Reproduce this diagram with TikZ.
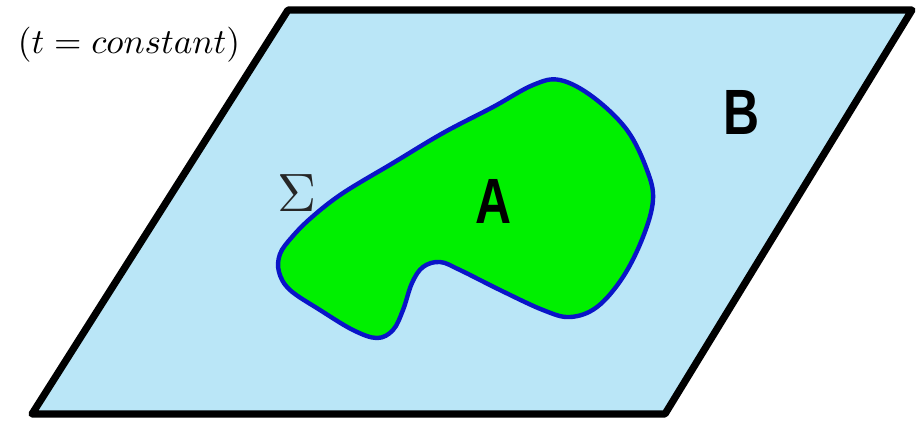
\documentclass[tikz,border=0pt]{standalone}
\usepackage{fontspec}
\newfontfamily\labelfont{Liberation Sans}
\definecolor{planeblue}{RGB}{186,230,247}
\definecolor{regiongreen}{RGB}{0,240,0}
\definecolor{edgeblue}{RGB}{10,20,200}
\tikzset{
  plane/.style={draw=black, line width=1.8pt, line join=round, fill=planeblue},
  region/.style={draw=edgeblue, line width=1.1pt, fill=regiongreen},
  biglabel/.style={font=\labelfont\fontsize{16}{18}\selectfont\bfseries, xscale=0.78, inner sep=0pt}
}
\begin{document}
\begin{tikzpicture}[x=0.25pt,y=-0.25pt]
  % 1 px of the figure = 0.25pt, y grows downwards
  \useasboundingbox (0,0) rectangle (924,422);

  % the hypersurface t = const
  \draw[plane] (288,10) -- (912,10) -- (665,414) -- (32,414) -- cycle;

  % region A, bounded by Sigma
  \draw[region] plot[smooth cycle, tension=0.6] coordinates {
    (280,254) (292,237) (312,217) (343,193) (393,163) (443,133) (493,107)
    (533,85) (560,80) (593,97) (627,130) (647,170) (653,200)
    (643,237) (623,277) (597,307) (570,317) (543,310) (500,290)
    (460,270) (440,262) (423,267) (412,283) (403,310) (393,330)
    (377,338) (353,330) (320,310) (290,290) (279,272)};

  % labels
  \node[inner sep=0pt, scale=0.88] (time) at (129,45) {$(t = constant)$};
  \node[inner sep=0pt, scale=1.35, text=black!85] (sigma) at (297,193) {$\Sigma$};
  \node[biglabel] (lblA) at (494,201) {A};
  \node[biglabel] (lblB) at (742,112) {B};
\end{tikzpicture}
\end{document}
